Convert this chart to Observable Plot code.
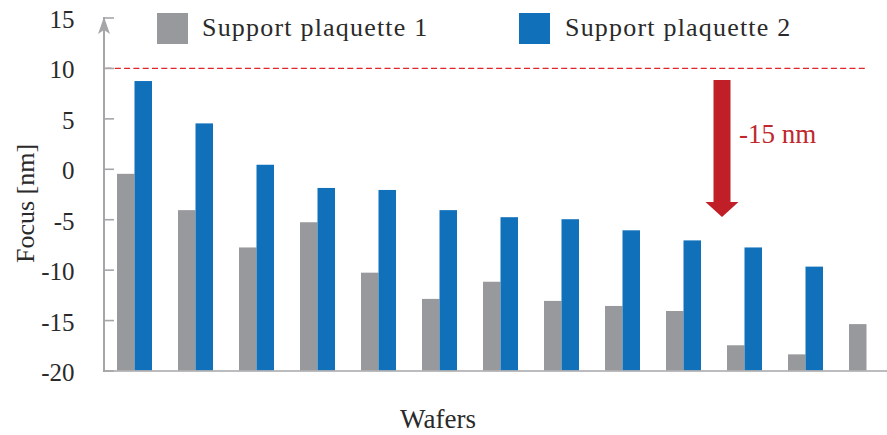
<!DOCTYPE html>
<html>
<head>
<meta charset="utf-8">
<script src="https://cdn.jsdelivr.net/npm/d3@7"></script>
<script src="https://cdn.jsdelivr.net/npm/@observablehq/plot@0.6"></script>
<style>
  html, body { margin: 0; padding: 0; background: #fff; }
  #chart { position: relative; width: 887px; height: 435px; font-family: "Liberation Serif", serif; }
  #chart svg { display: block; }
  .swatch { position: absolute; top: 13px; width: 31px; height: 31px; }
  .ltext { position: absolute; top: 15px; font-size: 26px; line-height: 26px; letter-spacing: 1.2px; color: #2a2a2a; white-space: nowrap; }
</style>
</head>
<body>
<div id="chart"></div>
<script>
// Focus per wafer for the two wafer supports (nm)
const wafers = ["1", "2", "3", "4", "5", "6", "7", "8", "9", "10", "11", "12", "13"];
const support1 = [-0.5, -4.1, -7.8, -5.3, -10.3, -12.9, -11.2, -13.1, -13.6, -14.1, -17.5, -18.4, -15.4];
const support2 = [8.7, 4.5, 0.4, -1.9, -2.1, -4.1, -4.8, -5.0, -6.1, -7.1, -7.8, -9.7, null];
const seriesNames = ["Support plaquette 1", "Support plaquette 2"];
const yTicks = [-20, -15, -10, -5, 0, 5, 10, 15];
const yDomain = [-20, 15];
const limit = 10;            // dashed reference level
const shiftFrom = 10;        // start of the shift arrow
const shiftBy = -15;         // size of the shift
const shiftLabel = "-15 nm";
const shiftWafer = "11";     // wafer the arrow is drawn next to

const gray = "#98999d";
const blue = "#1170ba";
const axisGray = "#a6a6a9";
const red = "#c01f27";
const ink = "#2a2a2a";
const serif = "'Liberation Serif', serif";

// Arrowhead at the top of the y axis (tip at the origin, pointing up)
const axisHead = {
  draw(ctx) {
    ctx.moveTo(0, -1);
    ctx.lineTo(-6, 16);
    ctx.lineTo(0, 12);
    ctx.lineTo(6, 16);
    ctx.closePath();
  }
};
// Head of the shift arrow (tip at the origin, pointing down)
const shiftHead = {
  draw(ctx) {
    ctx.moveTo(0, 0);
    ctx.lineTo(-16.5, -15);
    ctx.lineTo(16.5, -15);
    ctx.closePath();
  }
};

const shiftTo = shiftFrom + shiftBy;

const chart = Plot.plot({
  width: 887,
  height: 435,
  marginLeft: 103.5,
  marginRight: 0,
  marginTop: 17.5,
  marginBottom: 64.5,
  style: `font-family: ${serif}; font-size: 25px; background: white; color: ${ink};`,
  x: { domain: wafers, paddingInner: 0.426, paddingOuter: 0.135, align: 0.8, axis: null },
  y: { domain: yDomain, axis: null },
  marks: [
    Plot.barY(wafers, { x: d => d, y1: yDomain[0], y2: (d, i) => support1[i], fill: gray, insetRight: 17.5 }),
    Plot.barY(wafers, { x: d => d, y1: yDomain[0], y2: (d, i) => support2[i], fill: blue, insetLeft: 17.5 }),
    Plot.ruleY([limit], { stroke: "#e0262b", strokeWidth: 1.3, strokeDasharray: "6,3.3", insetLeft: 2, insetRight: 19 }),
    // axes
    Plot.ruleY([yDomain[0]], { stroke: axisGray, strokeWidth: 1.6 }),
    Plot.frame({ anchor: "left", stroke: axisGray, strokeWidth: 2 }),
    Plot.axisY({ ticks: yTicks, text: null, tickSize: -10.5, stroke: axisGray, strokeWidth: 1.6, label: null }),
    Plot.axisY({ ticks: yTicks, tickSize: 0, tickPadding: 29.5, tickFormat: d => String(d), fill: ink, dy: 2, fontSize: 25, fontFamily: serif, label: null }),
    Plot.dot([yDomain[1]], { y: d => d, frameAnchor: "left", symbol: axisHead, fill: axisGray, stroke: "none" }),
    Plot.text(["Focus [nm]"], { frameAnchor: "left", textAnchor: "middle", rotate: -90, dx: -78.5, dy: 9, fontSize: 26, fontFamily: serif, fill: ink }),
    Plot.text(["Wafers"], { frameAnchor: "bottom", lineAnchor: "bottom", dx: -57.75, dy: 56.8, fontSize: 27, fontFamily: serif, fill: ink }),
    // shift arrow
    Plot.ruleX([shiftWafer], { x: d => d, y1: shiftFrom, y2: shiftTo, dx: -23, stroke: red, strokeWidth: 17, insetTop: 12, insetBottom: 16 }),
    Plot.dot([shiftWafer], { x: d => d, y: shiftTo, dx: -23, dy: -2.7, symbol: shiftHead, fill: red, stroke: "none" }),
    Plot.text([shiftLabel], { x: () => shiftWafer, y: shiftFrom + shiftBy / 2, text: d => d, textAnchor: "start", dx: -6, dy: -9.6, fontSize: 27, fontFamily: serif, fill: "#c0272d" })
  ]
});

const root = document.getElementById("chart");
root.appendChild(chart);

// Legend drawn over the top of the plot area
const legendItems = [
  { name: seriesNames[0], color: gray, swatchLeft: 157, textLeft: 202 },
  { name: seriesNames[1], color: blue, swatchLeft: 519, textLeft: 565 }
];
for (const item of legendItems) {
  const sw = document.createElement("div");
  sw.className = "swatch";
  sw.style.left = item.swatchLeft + "px";
  sw.style.background = item.color;
  root.appendChild(sw);
  const tx = document.createElement("div");
  tx.className = "ltext";
  tx.style.left = item.textLeft + "px";
  tx.textContent = item.name;
  root.appendChild(tx);
}
</script>
</body>
</html>
